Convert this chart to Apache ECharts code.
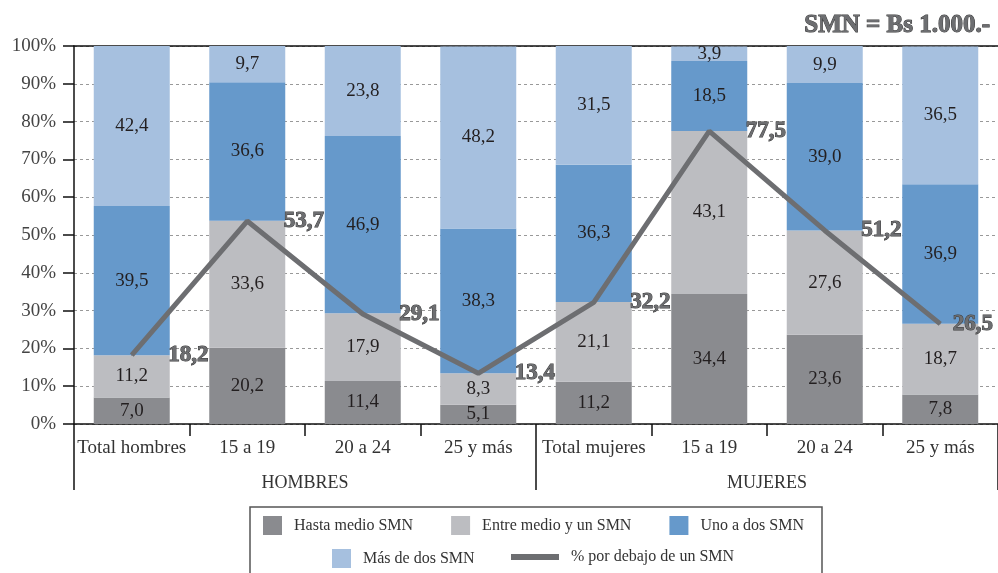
<!DOCTYPE html>
<html>
<head>
<meta charset="utf-8">
<script src="https://cdn.jsdelivr.net/npm/echarts@6/dist/echarts.min.js"></script>
<style>html,body{margin:0;padding:0;background:#fff}#c{width:998px;height:573px}</style>
</head>
<body>
<div id="c"></div>
<script>
var categories = ['Total hombres','15 a 19','20 a 24','25 y más','Total mujeres','15 a 19','20 a 24','25 y más'];
var groups = ['HOMBRES','MUJERES'];
var hastaMedio = [7.0, 20.2, 11.4, 5.1, 11.2, 34.4, 23.6, 7.8];
var entreMedioYUno = [11.2, 33.6, 17.9, 8.3, 21.1, 43.1, 27.6, 18.7];
var unoADos = [39.5, 36.6, 46.9, 38.3, 36.3, 18.5, 39.0, 36.9];
var masDeDos = [42.4, 9.7, 23.8, 48.2, 31.5, 3.9, 9.9, 36.5];
var porDebajo = [18.2, 53.7, 29.1, 13.4, 32.2, 77.5, 51.2, 26.5];
var yTicks = [0, 10, 20, 30, 40, 50, 60, 70, 80, 90, 100];

var serif = '"Liberation Serif", "DejaVu Serif", serif';
function fmt(v){ return Number(v).toFixed(1).replace('.', ','); }

var chart = echarts.init(document.getElementById('c'), null, {renderer:'canvas'});

function barSeries(name, data, color){
  return {
    name: name, type: 'bar', stack: 'tot', data: data,
    barWidth: 76,
    itemStyle: {color: color},
    label: {show: true, position: 'inside', formatter: function(p){return fmt(p.value);},
            color: '#231f20', fontFamily: serif, fontSize: 19},
    z: 2
  };
}
var legendText = {fontFamily: serif, fontSize: 16, color: '#333', padding: [0,0,0,7]};

// line points; the last label sits closer to its point so it stays inside the chart
var lineData = porDebajo.map(function(v, i){
  if (i === porDebajo.length - 1) {
    return {value: v, label: {distance: 12, offset: [0, -8]}};
  }
  return v;
});

chart.setOption({
  animation: false,
  textStyle: {fontFamily: serif},
  title: {
    text: 'SMN = Bs 1.000.-', right: 2, top: 8,
    textStyle: {fontFamily: serif, fontSize: 25, fontWeight: 'bold', color: '#6d6e71',
                textBorderColor: '#3a3a3a', textBorderWidth: 1}
  },
  grid: {left: 74, right: 0, top: 46, bottom: 149, containLabel: false},
  xAxis: [
    {type: 'category', data: categories, position: 'bottom',
     axisLine: {show: true, lineStyle: {color: '#111', width: 1.5}},
     axisTick: {show: true, length: 12, lineStyle: {color: '#111', width: 1.5}},
     axisLabel: {interval: 0, margin: 15, fontFamily: serif, fontSize: 19, color: '#333'},
     splitLine: {show: false}},
    {type: 'category', data: groups, position: 'bottom',
     axisLine: {show: false},
     axisTick: {show: true, length: 66, lineStyle: {color: '#111', width: 1.5}},
     axisLabel: {interval: 0, margin: 50, fontFamily: serif, fontSize: 18, color: '#333'},
     splitLine: {show: false}},
    {type: 'category', data: categories, position: 'top',
     axisLine: {show: true, lineStyle: {color: '#111', width: 1.5}},
     axisTick: {show: false}, axisLabel: {show: false}}
  ],
  yAxis: {
    type: 'value', min: yTicks[0], max: yTicks[yTicks.length-1], interval: 10,
    axisLine: {show: true, lineStyle: {color: '#111', width: 1.5}},
    axisTick: {show: true, length: 11, lineStyle: {color: '#111', width: 1.5}},
    axisLabel: {margin: 18, formatter: '{value}%', fontFamily: serif, fontSize: 19, color: '#444'},
    splitLine: {show: true, lineStyle: {color: '#999', type: [3, 3], width: 1}}
  },
  legend: [
    {data: ['Hasta medio SMN','Entre medio y un SMN','Uno a dos SMN'], left: 263, top: 516,
     padding: 0, itemWidth: 19, itemHeight: 19, itemGap: 38, icon: 'rect',
     textStyle: legendText},
    {data: ['Más de dos SMN'], left: 332, top: 549,
     padding: 0, itemWidth: 19, itemHeight: 19, icon: 'rect',
     textStyle: legendText},
    {data: ['% por debajo de un SMN'], left: 511, top: 549, padding: 0,
     itemWidth: 48, itemHeight: 19, icon: 'path://M0,7 L48,7 L48,13 L0,13 Z',
     textStyle: legendText}
  ],
  graphic: [
    {type: 'rect', shape: {x: 250, y: 507, width: 572, height: 80},
     style: {fill: 'none', stroke: '#555', lineWidth: 1.5}, silent: true}
  ],
  series: [
    barSeries('Hasta medio SMN', hastaMedio, '#8a8b8f'),
    barSeries('Entre medio y un SMN', entreMedioYUno, '#bcbdc1'),
    barSeries('Uno a dos SMN', unoADos, '#6699cb'),
    barSeries('Más de dos SMN', masDeDos, '#a6c0df'),
    {
      name: '% por debajo de un SMN', type: 'line', data: lineData,
      symbol: 'circle', symbolSize: 1, showSymbol: true,
      lineStyle: {color: '#6d6e71', width: 5},
      itemStyle: {color: '#6d6e71'},
      label: {show: true, position: 'right', distance: 36, offset: [0, 4],
              formatter: function(p){return fmt(p.value);},
              fontFamily: serif, fontSize: 23, fontWeight: 'bold', color: '#6d6e71',
              textBorderColor: '#3a3a3a', textBorderWidth: 1},
      labelLayout: {hideOverlap: false},
      z: 5
    }
  ]
});
</script>
</body>
</html>
